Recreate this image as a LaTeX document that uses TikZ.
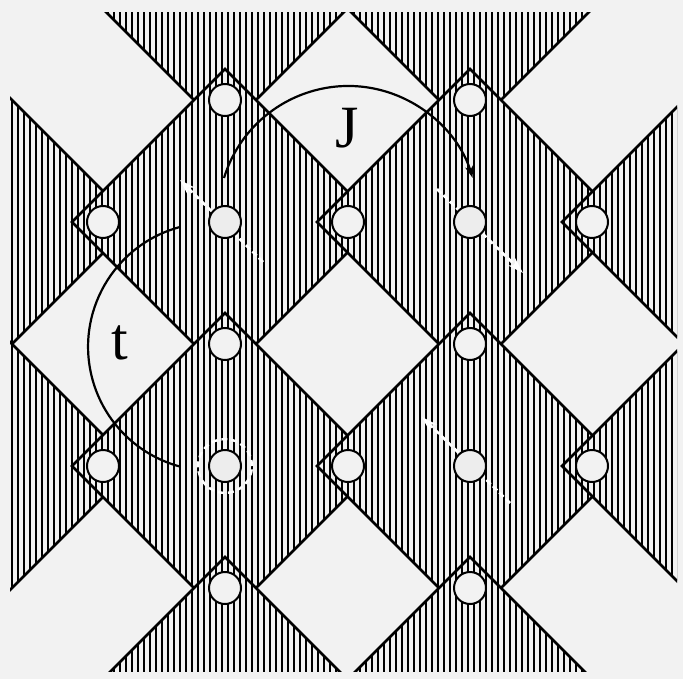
\documentclass[tikz,border=0pt]{standalone}
\usepackage{fontspec}
\setmainfont{Liberation Serif}
\usetikzlibrary{arrows.meta}
\definecolor{paper}{RGB}{242,242,242}
\begin{document}
\begin{tikzpicture}[x=0.5pt,y=-0.5pt,
  hatch/.style={line width=1.25pt, black},
  edge/.style={line width=1.3pt, black, line join=miter},
  osite/.style={circle, draw=black, line width=1pt, fill=paper, minimum size=16pt, inner sep=0pt},
  cusite/.style={osite, fill=gray!14},
  spin/.style={white, line width=1.3pt, dash pattern=on 3pt off 1.5pt, -{Stealth[length=8pt,width=5pt]}},
  bond/.style={line width=1.1pt, black},
  lbl/.style={font=\fontsize{30}{36}\selectfont, inner sep=0pt}
]
\useasboundingbox (0,0) rectangle (683,679);
\fill[paper] (0,0) rectangle (683,679);
% hatched CuO4 plaquettes (drawn in raster order)
\begin{scope}
\clip (10,13) rectangle (677,671);
\foreach \cx/\cy in {225/-22, 470/-22, -19/222, 225/222, 470/222, 715/222, -19/466, 225/466, 470/466, 715/466, 225/710, 470/710}{
  \begin{scope}
    \clip ({\cx-153},{\cy}) -- ({\cx},{\cy-153}) -- ({\cx+153},{\cy}) -- ({\cx},{\cy+153}) -- cycle;
    \fill[paper] ({\cx-153},{\cy-153}) rectangle ({\cx+153},{\cy+153});
    \foreach \k in {0,...,112} \draw[hatch] ({6+6*\k},{\cy-160}) -- ({6+6*\k},{\cy+160});
  \end{scope}
  \draw[edge] ({\cx-153},{\cy}) -- ({\cx},{\cy-153}) -- ({\cx+153},{\cy}) -- ({\cx},{\cy+153}) -- cycle;
}
\end{scope}
% spins (white dashed arrows)
\coordinate (s1a) at (263,262); \coordinate (s1b) at (180,180);
\coordinate (s2a) at (437,189); \coordinate (s2b) at (523,273);
\coordinate (s3a) at (510,503); \coordinate (s3b) at (422,417);
\draw[spin] (s1a) -- (s1b);
\draw[spin] (s2a) -- (s2b);
\draw[spin] (s3a) -- (s3b);
\draw[white, line width=1.2pt, dash pattern=on 3pt off 2pt] (225,466) circle[radius=13.5pt];
% O sites
\node[osite] (O1) at (225,100) {};
\node[osite] (O2) at (470,100) {};
\node[osite] (O3) at (103,222) {};
\node[osite] (O4) at (348,222) {};
\node[osite] (O5) at (592,222) {};
\node[osite] (O6) at (225,344) {};
\node[osite] (O7) at (470,344) {};
\node[osite] (O8) at (103,466) {};
\node[osite] (O9) at (348,466) {};
\node[osite] (O10) at (592,466) {};
\node[osite] (O11) at (225,588) {};
\node[osite] (O12) at (470,588) {};
% Cu sites
\node[cusite] (Cu1) at (225,222) {};
\node[cusite] (Cu2) at (470,222) {};
\node[cusite] (Cu3) at (225,466) {};
\node[cusite] (Cu4) at (470,466) {};
% exchange J
\coordinate (Ja) at (224,178);
\draw[bond, -{Stealth[length=6pt,width=4pt]}] (Ja) arc[start angle=163, end angle=17, radius=65pt];
\node[lbl] (J) at (347,128) {J};
% hopping t
\coordinate (ta) at (180,227);
\draw[bond] (ta) arc[start angle=105, end angle=255, radius=62pt];
\node[lbl] (t) at (120,343) {t};
\end{tikzpicture}
\end{document}
